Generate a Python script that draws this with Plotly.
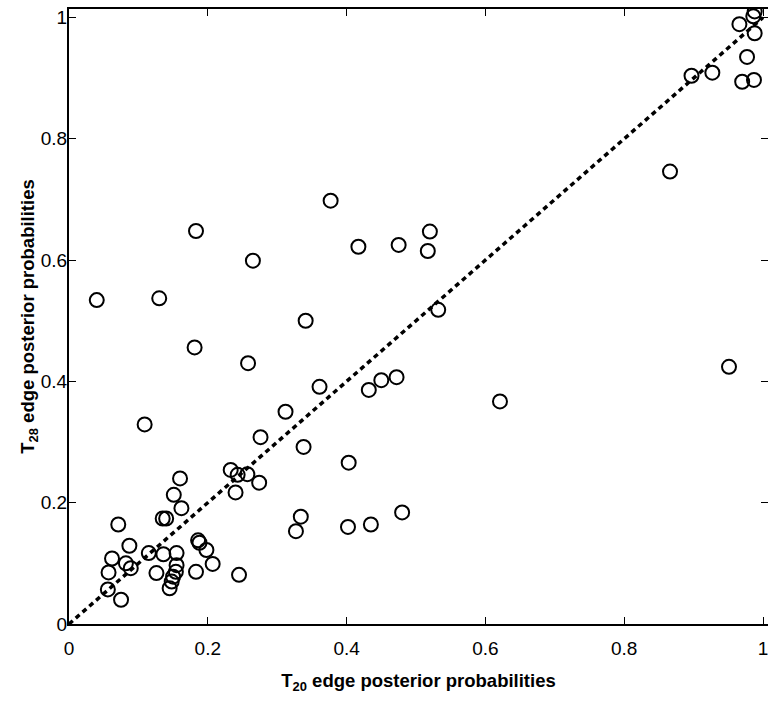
import plotly.graph_objects as go

t20 = [0.040, 0.130, 0.183, 0.265, 0.181, 0.258, 0.341, 0.377, 0.417, 0.475,
       0.520, 0.517, 0.532, 0.361, 0.432, 0.450, 0.472, 0.621, 0.338, 0.403,
       0.334, 0.402, 0.435, 0.480, 0.109, 0.312, 0.276, 0.233, 0.243, 0.257,
       0.274, 0.240, 0.160, 0.151, 0.162, 0.135, 0.140, 0.071, 0.327, 0.087,
       0.062, 0.057, 0.056, 0.075, 0.082, 0.089, 0.115, 0.136, 0.155, 0.126,
       0.155, 0.154, 0.150, 0.148, 0.145, 0.186, 0.188, 0.198, 0.207, 0.183,
       0.245, 0.988, 0.986, 0.966, 0.988, 0.977, 0.970, 0.987, 0.897, 0.927,
       0.866, 0.951]
t28 = [0.534, 0.537, 0.648, 0.599, 0.456, 0.430, 0.500, 0.698, 0.622, 0.625,
       0.647, 0.615, 0.518, 0.391, 0.386, 0.402, 0.407, 0.367, 0.292, 0.266,
       0.177, 0.160, 0.164, 0.184, 0.329, 0.350, 0.308, 0.254, 0.246, 0.247,
       0.233, 0.217, 0.240, 0.213, 0.191, 0.174, 0.174, 0.164, 0.153, 0.129,
       0.108, 0.085, 0.057, 0.040, 0.100, 0.092, 0.117, 0.115, 0.117, 0.084,
       0.097, 0.086, 0.078, 0.070, 0.059, 0.138, 0.134, 0.122, 0.099, 0.086,
       0.081, 1.010, 1.002, 0.989, 0.974, 0.935, 0.894, 0.897, 0.904, 0.909,
       0.746, 0.424]

diag = [0, 1]
tick_vals = [0, 0.2, 0.4, 0.6, 0.8, 1]
tick_text = ["0", "0.2", "0.4", "0.6", "0.8", "1"]

FONT = "Liberation Sans, Arial, sans-serif"

fig = go.Figure()
fig.add_trace(go.Scatter(
    x=diag, y=diag, mode="lines",
    line=dict(color="black", width=3.5, dash="5px,4px"),
    showlegend=False, hoverinfo="skip"))
fig.add_trace(go.Scatter(
    x=t20, y=t28, mode="markers",
    marker=dict(symbol="circle-open", size=14, color="black",
                line=dict(color="black", width=2)),
    showlegend=False))

axis_common = dict(
    showgrid=False, zeroline=False, showline=True, linecolor="black",
    linewidth=2, mirror="allticks", ticks="inside", ticklen=7, tickwidth=1,
    tickcolor="black", tickvals=tick_vals, ticktext=tick_text,
    ticklabeloverflow="allow",
    tickfont=dict(family=FONT, size=19, color="black"))

fig.update_xaxes(range=[0, 1.0072], **axis_common, ticklabelstandoff=6,
                 title=dict(text="<b>T<sub>20</sub> edge posterior probabilities</b>",
                            font=dict(family=FONT, size=18.5, color="black"),
                            standoff=16))
fig.update_yaxes(range=[0, 1.014], **axis_common, ticklabelstandoff=-4,
                 title=dict(text="<b>T<sub>28</sub> edge posterior probabilities</b>",
                            font=dict(family=FONT, size=18.5, color="black"),
                            standoff=0))

fig.update_layout(
    width=768, height=704,
    margin=dict(l=69, r=0, t=9, b=80, autoexpand=False),
    plot_bgcolor="white", paper_bgcolor="white",
    font=dict(family=FONT, color="black"))

fig.write_html(
    "out.html",
    config={"displayModeBar": False},
    post_script=("document.documentElement.style.overflow='hidden';"
                 "document.body.style.overflow='hidden';"
                 "document.body.style.margin='0';"))
